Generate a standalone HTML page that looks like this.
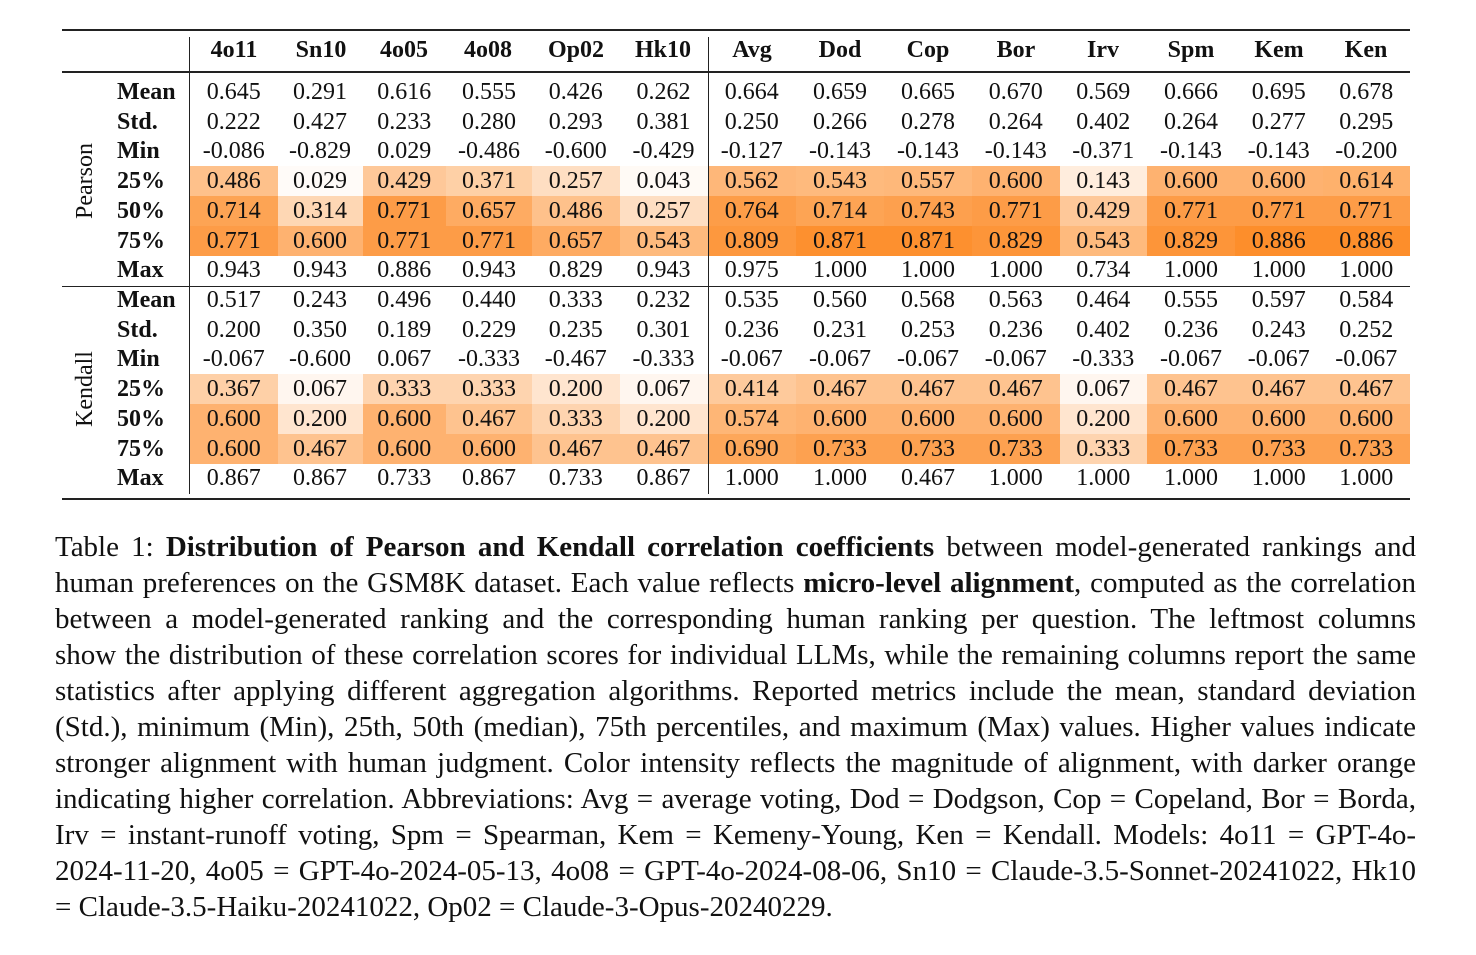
<!DOCTYPE html>
<html><head><meta charset="utf-8">
<style>
body{margin:0;width:1476px;height:955px;background:#fff;position:relative;overflow:hidden;font-family:"Liberation Serif",serif;color:#111}
.c{position:absolute;font-size:24px;text-align:center;line-height:30px;height:30px}
.rule{position:absolute;background:#222}
#cap{position:absolute;left:55px;top:529px;width:1361px;font-size:29px;line-height:36px}
#cap div{text-align:justify;text-align-last:justify;white-space:nowrap;height:36px}
#cap div.last{text-align-last:left}
</style></head><body>
<div id="tbl"></div>
<div id="cap">
<div>Table 1: <b>Distribution of Pearson and Kendall correlation coefficients</b> between model-generated rankings and</div>
<div>human preferences on the GSM8K dataset. Each value reflects <b>micro-level alignment</b>, computed as the correlation</div>
<div>between a model-generated ranking and the corresponding human ranking per question. The leftmost columns</div>
<div>show the distribution of these correlation scores for individual LLMs, while the remaining columns report the same</div>
<div>statistics after applying different aggregation algorithms. Reported metrics include the mean, standard deviation</div>
<div>(Std.), minimum (Min), 25th, 50th (median), 75th percentiles, and maximum (Max) values. Higher values indicate</div>
<div>stronger alignment with human judgment. Color intensity reflects the magnitude of alignment, with darker orange</div>
<div>indicating higher correlation. Abbreviations: Avg = average voting, Dod = Dodgson, Cop = Copeland, Bor = Borda,</div>
<div>Irv = instant-runoff voting, Spm = Spearman, Kem = Kemeny-Young, Ken = Kendall. Models: 4o11 = GPT-4o-</div>
<div>2024-11-20, 4o05 = GPT-4o-2024-05-13, 4o08 = GPT-4o-2024-08-06, Sn10 = Claude-3.5-Sonnet-20241022, Hk10</div>
<div class="last">= Claude-3.5-Haiku-20241022, Op02 = Claude-3-Opus-20240229.</div>
</div>
<script>
const columns=["4o11","Sn10","4o05","4o08","Op02","Hk10","Avg","Dod","Cop","Bor","Irv","Spm","Kem","Ken"];
const stats=["Mean","Std.","Min","25%","50%","75%","Max"];
const pearson=[
[0.645,0.291,0.616,0.555,0.426,0.262,0.664,0.659,0.665,0.670,0.569,0.666,0.695,0.678],
[0.222,0.427,0.233,0.280,0.293,0.381,0.250,0.266,0.278,0.264,0.402,0.264,0.277,0.295],
[-0.086,-0.829,0.029,-0.486,-0.600,-0.429,-0.127,-0.143,-0.143,-0.143,-0.371,-0.143,-0.143,-0.200],
[0.486,0.029,0.429,0.371,0.257,0.043,0.562,0.543,0.557,0.600,0.143,0.600,0.600,0.614],
[0.714,0.314,0.771,0.657,0.486,0.257,0.764,0.714,0.743,0.771,0.429,0.771,0.771,0.771],
[0.771,0.600,0.771,0.771,0.657,0.543,0.809,0.871,0.871,0.829,0.543,0.829,0.886,0.886],
[0.943,0.943,0.886,0.943,0.829,0.943,0.975,1.000,1.000,1.000,0.734,1.000,1.000,1.000]];
const kendall=[
[0.517,0.243,0.496,0.440,0.333,0.232,0.535,0.560,0.568,0.563,0.464,0.555,0.597,0.584],
[0.200,0.350,0.189,0.229,0.235,0.301,0.236,0.231,0.253,0.236,0.402,0.236,0.243,0.252],
[-0.067,-0.600,0.067,-0.333,-0.467,-0.333,-0.067,-0.067,-0.067,-0.067,-0.333,-0.067,-0.067,-0.067],
[0.367,0.067,0.333,0.333,0.200,0.067,0.414,0.467,0.467,0.467,0.067,0.467,0.467,0.467],
[0.600,0.200,0.600,0.467,0.333,0.200,0.574,0.600,0.600,0.600,0.200,0.600,0.600,0.600],
[0.600,0.467,0.600,0.600,0.467,0.467,0.690,0.733,0.733,0.733,0.333,0.733,0.733,0.733],
[0.867,0.867,0.733,0.867,0.733,0.867,1.000,1.000,0.467,1.000,1.000,1.000,1.000,1.000]];
const colX=[234,321,404,488,576,663,752,840,928,1016,1103,1191,1279,1366];
const colW=87.9;
const T=document.getElementById('tbl');
function color(v){const t=Math.max(0,Math.min(1,v/0.9));
return `rgb(${Math.round(255-2*t)},${Math.round(255-115*t)},${Math.round(255-215*t)})`;}
function rule(x,y,w,h,name){const d=document.createElement('div');d.className='rule';
d.style.cssText=`left:${x}px;top:${y}px;width:${w}px;height:${h}px`;

T.appendChild(d);}
function cell(txt,cx,cy,w,bold,bg,name){const d=document.createElement('div');d.className='c';
d.textContent=txt;d.style.left=(cx-w/2)+'px';d.style.top=(cy-15)+'px';d.style.width=w+'px';
if(bold)d.style.fontWeight='bold';if(bg)d.style.background=bg;

T.appendChild(d);}
columns.forEach((c,i)=>cell(c,colX[i],50,colW,true,null,'header-'+c.toLowerCase()));
function block(data,y0,label){
 const step=29.7;
 stats.forEach((s,r)=>{const cy=y0+r*step;
  const l=document.createElement('div');l.className='c';l.textContent=s;
  l.style.cssText=`left:117px;top:${cy-15}px;width:70px;text-align:left;font-weight:bold`;
  
  T.appendChild(l);
  data[r].forEach((v,i)=>{const bg=(r>=3&&r<=5)?color(v):null;
   const left=i==0?190:(colX[i]+colX[i-1])/2, right=i==13?1410:(colX[i]+colX[i+1])/2;
   const d=document.createElement('div');d.className='c';d.textContent=v.toFixed(3);
   d.style.left=left+'px';d.style.width=(right-left)+'px';d.style.top=(cy-15)+'px';
   if(bg)d.style.background=bg;
   
   T.appendChild(d);});
 });
 const g=document.createElement('div');g.textContent=label==='pearson'?'Pearson':'Kendall';
 g.style.cssText=`position:absolute;left:35px;top:${y0+3*step-15}px;width:100px;height:30px;line-height:30px;text-align:center;font-size:24px;transform:rotate(-90deg)`;
 
 T.appendChild(g);
}
block(pearson,92,'pearson');
block(kendall,300,'kendall');
rule(62,29,1348,2,'top-rule');
rule(62,71,1348,1.5,'header-rule');
rule(62,286,1348,1.2,'mid-rule');
rule(62,498,1348,2,'bottom-rule');
rule(189,37,1.3,457,'vertical-rule-1');
rule(708,37,1.3,457,'vertical-rule-2');
</script>
</body></html>
